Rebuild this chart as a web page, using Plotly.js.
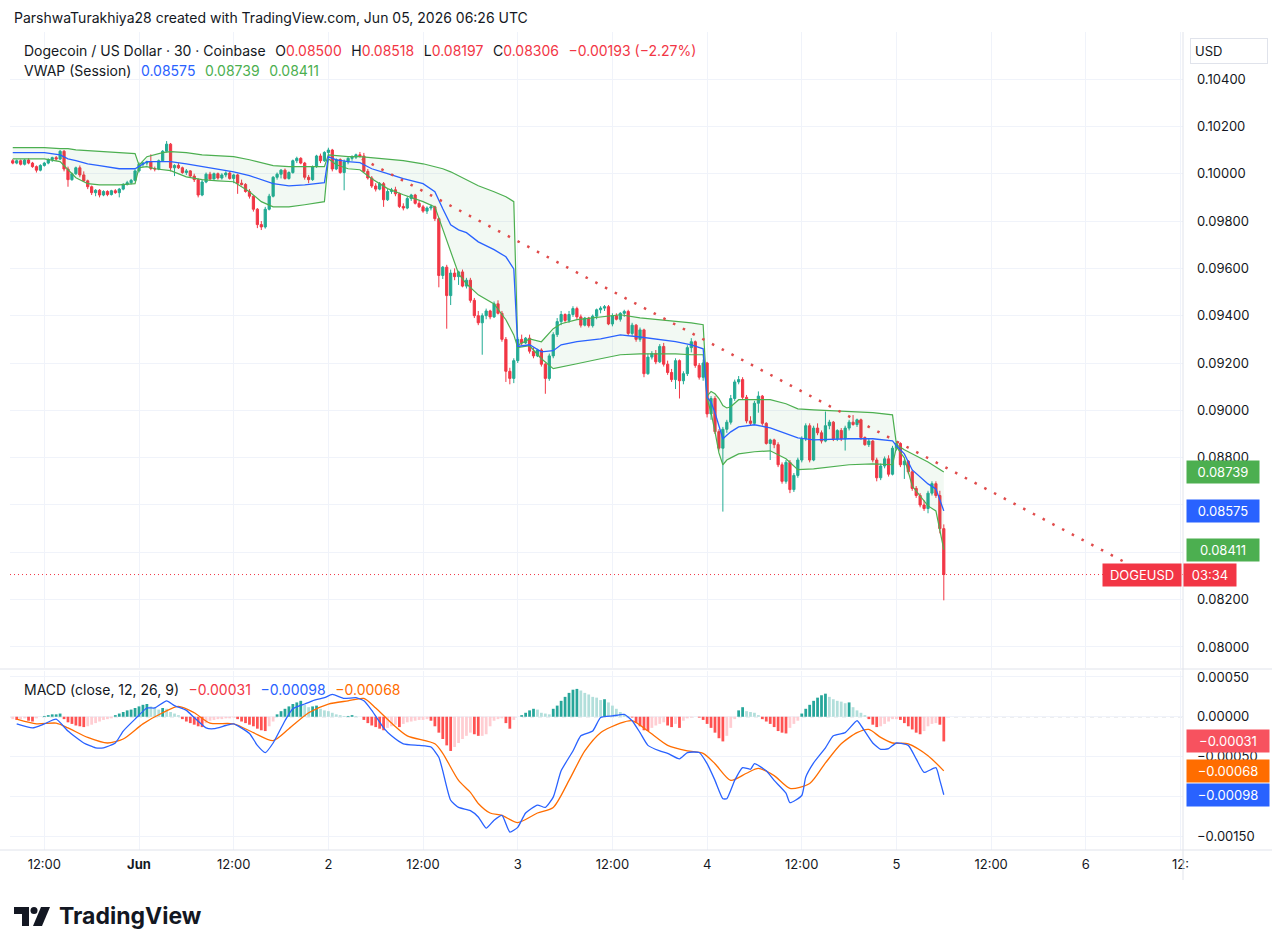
<!DOCTYPE html>
<html><head><meta charset="utf-8">
<script src="https://cdn.plot.ly/plotly-3.0.1.min.js"></script>
<style>html,body{margin:0;padding:0;background:#fff}#chart{width:1287px;height:952px}</style>
</head><body><div id="chart"></div>
<script>
// ---------- DATA ----------
const candleStartUTC = '2026-05-31T08:00:00Z'; // 30-minute candles
const open = [0.10055,0.10045,0.10055,0.10040,0.10058,0.10045,0.10030,0.10015,0.10035,0.10045,
0.10060,0.10068,0.10062,0.10095,0.10020,0.09975,0.10000,0.10025,0.09995,0.09970,
0.09945,0.09920,0.09930,0.09910,0.09925,0.09912,0.09928,0.09920,0.09935,0.09955,
0.09962,0.09972,0.10012,0.10040,0.10045,0.10050,0.10022,0.10020,0.10055,0.10095,
0.10125,0.10025,0.10035,0.10025,0.10005,0.10012,0.09990,0.09975,0.09910,0.09965,
0.09998,0.09978,0.10000,0.09982,0.09995,0.10003,0.09980,0.09995,0.09960,0.09955,
0.09925,0.09905,0.09850,0.09785,0.09775,0.09850,0.09905,0.09985,0.09998,0.10015,
0.09980,0.10005,0.10055,0.10065,0.10045,0.09985,0.09975,0.10030,0.10075,0.10055,
0.10090,0.10100,0.10020,0.10060,0.10005,0.10050,0.10065,0.10070,0.10080,0.10075,
0.10010,0.09982,0.09948,0.09935,0.09958,0.09890,0.09925,0.09932,0.09915,0.09862,
0.09855,0.09895,0.09910,0.09875,0.09860,0.09842,0.09855,0.09860,0.09810,0.09570,
0.09605,0.09485,0.09580,0.09565,0.09585,0.09525,0.09550,0.09465,0.09400,0.09370,
0.09400,0.09420,0.09395,0.09450,0.09410,0.09300,0.09165,0.09135,0.09210,0.09300,
0.09285,0.09305,0.09250,0.09230,0.09255,0.09195,0.09135,0.09230,0.09320,0.09375,
0.09405,0.09380,0.09405,0.09430,0.09395,0.09360,0.09390,0.09358,0.09398,0.09425,
0.09432,0.09438,0.09365,0.09400,0.09385,0.09410,0.09418,0.09325,0.09360,0.09300,
0.09340,0.09155,0.09225,0.09240,0.09205,0.09270,0.09195,0.09160,0.09130,0.09210,
0.09125,0.09155,0.09265,0.09290,0.09190,0.09140,0.09200,0.08985,0.09050,0.08910,
0.08840,0.08920,0.08950,0.09050,0.09120,0.09130,0.09055,0.08955,0.08945,0.09030,
0.09060,0.08945,0.08860,0.08875,0.08855,0.08770,0.08700,0.08780,0.08665,0.08725,
0.08790,0.08880,0.08935,0.08790,0.08925,0.08905,0.08870,0.08935,0.08950,0.08880,
0.08915,0.08880,0.08925,0.08950,0.08940,0.08960,0.08885,0.08855,0.08870,0.08790,
0.08715,0.08765,0.08795,0.08730,0.08840,0.08860,0.08770,0.08785,0.08740,0.08670,
0.08640,0.08600,0.08585,0.08650,0.08690,0.08640,0.08500];
const high = [0.10062,0.10060,0.10060,0.10062,0.10065,0.10050,0.10035,0.10040,0.10050,0.10065,
0.10072,0.10075,0.10100,0.10100,0.10030,0.10005,0.10030,0.10035,0.10010,0.09975,
0.09950,0.09935,0.09935,0.09930,0.09930,0.09932,0.09935,0.09940,0.09960,0.09970,
0.09978,0.10018,0.10048,0.10050,0.10055,0.10082,0.10030,0.10060,0.10100,0.10138,
0.10130,0.10040,0.10045,0.10030,0.10020,0.10015,0.10000,0.09980,0.09975,0.10005,
0.10008,0.10005,0.10005,0.10002,0.10010,0.10010,0.10000,0.10000,0.09975,0.09960,
0.09935,0.09910,0.09855,0.09800,0.09860,0.09915,0.09990,0.10005,0.10020,0.10022,
0.10010,0.10060,0.10072,0.10070,0.10050,0.09995,0.10035,0.10080,0.10085,0.10095,
0.10110,0.10105,0.10065,0.10065,0.10060,0.10070,0.10078,0.10085,0.10092,0.10088,
0.10020,0.09990,0.09960,0.09965,0.09965,0.09935,0.09940,0.09945,0.09920,0.09875,
0.09905,0.09915,0.09915,0.09885,0.09868,0.09862,0.09870,0.09865,0.09815,0.09610,
0.09615,0.09595,0.09600,0.09590,0.09595,0.09560,0.09560,0.09475,0.09420,0.09410,
0.09430,0.09425,0.09460,0.09465,0.09420,0.09310,0.09180,0.09220,0.09310,0.09320,
0.09310,0.09320,0.09265,0.09260,0.09262,0.09200,0.09240,0.09330,0.09390,0.09420,
0.09410,0.09420,0.09440,0.09438,0.09405,0.09395,0.09395,0.09405,0.09430,0.09440,
0.09445,0.09445,0.09410,0.09410,0.09415,0.09425,0.09425,0.09370,0.09365,0.09350,
0.09345,0.09240,0.09250,0.09255,0.09280,0.09285,0.09210,0.09175,0.09220,0.09215,
0.09165,0.09275,0.09305,0.09295,0.09200,0.09215,0.09205,0.09060,0.09060,0.08920,
0.08930,0.08960,0.09065,0.09130,0.09145,0.09140,0.09065,0.08975,0.09040,0.09080,
0.09065,0.08950,0.08880,0.08880,0.08865,0.08780,0.08790,0.08790,0.08735,0.08800,
0.08890,0.08945,0.08945,0.08935,0.08945,0.08915,0.08995,0.08960,0.08955,0.08920,
0.08925,0.08935,0.08960,0.08980,0.08965,0.08965,0.08890,0.08880,0.08875,0.08800,
0.08775,0.08805,0.08810,0.08850,0.08870,0.08865,0.08795,0.08790,0.08750,0.08680,
0.08650,0.08620,0.08660,0.08700,0.08700,0.08660,0.08518];
const low = [0.10040,0.10040,0.10035,0.10035,0.10040,0.10025,0.10005,0.10010,0.10030,0.10040,
0.10050,0.10055,0.10058,0.10010,0.09945,0.09970,0.09995,0.09985,0.09965,0.09935,
0.09910,0.09905,0.09900,0.09905,0.09905,0.09908,0.09915,0.09900,0.09930,0.09950,
0.09955,0.09968,0.10005,0.10030,0.10035,0.10015,0.10010,0.10015,0.10050,0.10090,
0.10010,0.09990,0.10020,0.10000,0.09995,0.09985,0.09965,0.09900,0.09905,0.09960,
0.09970,0.09975,0.09975,0.09975,0.09985,0.09975,0.09960,0.09915,0.09950,0.09920,
0.09895,0.09840,0.09770,0.09762,0.09768,0.09845,0.09900,0.09975,0.09980,0.09975,
0.09975,0.10000,0.10045,0.10040,0.09975,0.09960,0.09970,0.10025,0.10045,0.10050,
0.10070,0.10010,0.10015,0.10000,0.09930,0.10040,0.10055,0.10062,0.10068,0.10005,
0.09975,0.09940,0.09925,0.09930,0.09860,0.09885,0.09915,0.09905,0.09855,0.09845,
0.09850,0.09885,0.09870,0.09855,0.09835,0.09830,0.09845,0.09800,0.09520,0.09555,
0.09345,0.09445,0.09550,0.09530,0.09520,0.09515,0.09455,0.09390,0.09360,0.09235,
0.09385,0.09385,0.09390,0.09405,0.09290,0.09120,0.09110,0.09115,0.09200,0.09275,
0.09280,0.09240,0.09220,0.09225,0.09185,0.09070,0.09125,0.09220,0.09310,0.09360,
0.09370,0.09370,0.09395,0.09385,0.09350,0.09355,0.09350,0.09350,0.09385,0.09410,
0.09420,0.09360,0.09355,0.09380,0.09375,0.09395,0.09315,0.09315,0.09290,0.09290,
0.09140,0.09150,0.09215,0.09195,0.09200,0.09185,0.09150,0.09120,0.09090,0.09050,
0.09110,0.09145,0.09245,0.09180,0.09130,0.09125,0.08970,0.08960,0.08900,0.08830,
0.08572,0.08905,0.08940,0.09040,0.09110,0.09045,0.08945,0.08935,0.08940,0.08990,
0.08935,0.08855,0.08790,0.08840,0.08760,0.08690,0.08690,0.08650,0.08655,0.08715,
0.08780,0.08870,0.08780,0.08785,0.08895,0.08860,0.08865,0.08920,0.08870,0.08870,
0.08870,0.08830,0.08915,0.08935,0.08930,0.08875,0.08850,0.08845,0.08780,0.08700,
0.08705,0.08755,0.08720,0.08725,0.08830,0.08760,0.08710,0.08730,0.08660,0.08630,
0.08590,0.08575,0.08565,0.08640,0.08630,0.08480,0.08197];
const close = [0.10045,0.10055,0.10040,0.10058,0.10045,0.10030,0.10015,0.10035,0.10045,0.10060,
0.10068,0.10062,0.10095,0.10020,0.09975,0.10000,0.10025,0.09995,0.09970,0.09945,
0.09920,0.09930,0.09910,0.09925,0.09912,0.09928,0.09920,0.09935,0.09955,0.09962,
0.09972,0.10012,0.10040,0.10045,0.10050,0.10022,0.10020,0.10055,0.10095,0.10125,
0.10025,0.10035,0.10025,0.10005,0.10012,0.09990,0.09975,0.09910,0.09965,0.09998,
0.09978,0.10000,0.09982,0.09995,0.10003,0.09980,0.09995,0.09960,0.09955,0.09925,
0.09905,0.09850,0.09785,0.09775,0.09850,0.09905,0.09985,0.09998,0.10015,0.09980,
0.10005,0.10055,0.10065,0.10045,0.09985,0.09975,0.10030,0.10075,0.10055,0.10090,
0.10100,0.10020,0.10060,0.10005,0.10050,0.10065,0.10070,0.10080,0.10075,0.10010,
0.09982,0.09948,0.09935,0.09958,0.09890,0.09925,0.09932,0.09915,0.09862,0.09855,
0.09895,0.09910,0.09875,0.09860,0.09842,0.09855,0.09860,0.09810,0.09570,0.09605,
0.09485,0.09580,0.09565,0.09585,0.09525,0.09550,0.09465,0.09400,0.09370,0.09400,
0.09420,0.09395,0.09450,0.09410,0.09300,0.09165,0.09135,0.09210,0.09300,0.09285,
0.09305,0.09250,0.09230,0.09255,0.09195,0.09135,0.09230,0.09320,0.09375,0.09405,
0.09380,0.09405,0.09430,0.09395,0.09360,0.09390,0.09358,0.09398,0.09425,0.09432,
0.09438,0.09365,0.09400,0.09385,0.09410,0.09418,0.09325,0.09360,0.09300,0.09340,
0.09155,0.09225,0.09240,0.09205,0.09270,0.09195,0.09160,0.09130,0.09210,0.09125,
0.09155,0.09265,0.09290,0.09190,0.09140,0.09200,0.08985,0.09050,0.08910,0.08840,
0.08920,0.08950,0.09050,0.09120,0.09130,0.09055,0.08955,0.08945,0.09030,0.09060,
0.08945,0.08860,0.08875,0.08855,0.08770,0.08700,0.08780,0.08665,0.08725,0.08790,
0.08880,0.08935,0.08790,0.08925,0.08905,0.08870,0.08935,0.08950,0.08880,0.08915,
0.08880,0.08925,0.08950,0.08940,0.08960,0.08885,0.08855,0.08870,0.08790,0.08715,
0.08765,0.08795,0.08730,0.08840,0.08860,0.08770,0.08785,0.08740,0.08670,0.08640,
0.08600,0.08585,0.08650,0.08690,0.08640,0.08500,0.08306];

// VWAP (session) – sampled at candle indices
const vwapIdx = [0,8,12,14,16,19,22,27,31,
 32,34,36,38,40,44,48,52,56,60,63,66,70,74,79,
 80,82,85,88,91,95,99,104,107,109,111,113,115,118,122,125,127,
 128,131,134,137,139,143,149,154,159,164,168,172,175,
 176,177,178,179,180,181,182,184,188,192,196,199,203,212,218,223,
 224,226,228,230,232,234,236];
const vwapUpper = [0.10110,0.10110,0.10106,0.10106,0.10101,0.10097,0.10093,0.10089,0.10085,
 0.10036,0.10072,0.10080,0.10089,0.10093,0.10089,0.10080,0.10076,0.10072,0.10059,0.10047,0.10034,0.10030,0.10030,0.10030,
 0.10080,0.10076,0.10072,0.10072,0.10068,0.10063,0.10055,0.10042,0.10030,0.10021,0.10008,0.09992,0.09975,0.09949,0.09924,0.09903,0.09882,
 0.09275,0.09302,0.09290,0.09345,0.09366,0.09383,0.09395,0.09404,0.09391,0.09383,0.09379,0.09370,0.09362,
 0.09060,0.09080,0.09070,0.09050,0.09020,0.09010,0.09015,0.09045,0.09045,0.09045,0.09028,0.09006,0.09002,0.08994,0.08990,0.08981,
 0.08855,0.08833,0.08816,0.08799,0.08782,0.08761,0.08739];
const vwapMid = [0.10089,0.10089,0.10080,0.10063,0.10055,0.10042,0.10034,0.10021,0.10021,
 0.10031,0.10051,0.10051,0.10051,0.10051,0.10042,0.10030,0.10021,0.10008,0.09992,0.09975,0.09958,0.09949,0.09953,0.09962,
 0.10072,0.10059,0.10051,0.10047,0.10021,0.10000,0.09979,0.09958,0.09924,0.09852,0.09784,0.09763,0.09751,0.09712,0.09679,0.09649,0.09598,
 0.09270,0.09277,0.09247,0.09252,0.09277,0.09290,0.09302,0.09319,0.09310,0.09298,0.09290,0.09277,0.09260,
 0.09055,0.09035,0.08990,0.08935,0.08880,0.08895,0.08909,0.08930,0.08939,0.08926,0.08901,0.08884,0.08875,0.08880,0.08880,0.08871,
 0.08850,0.08816,0.08748,0.08719,0.08689,0.08668,0.08575];
const vwapLower = [0.10063,0.10063,0.10051,0.10017,0.09983,0.09958,0.09953,0.09953,0.09958,
 0.10026,0.10030,0.10021,0.10017,0.10013,0.09987,0.09975,0.09970,0.09966,0.09924,0.09882,0.09860,0.09860,0.09869,0.09882,
 0.10063,0.10038,0.10021,0.10017,0.09979,0.09937,0.09911,0.09882,0.09860,0.09763,0.09670,0.09577,0.09535,0.09488,0.09450,0.09383,0.09319,
 0.09265,0.09273,0.09218,0.09176,0.09184,0.09197,0.09218,0.09235,0.09239,0.09239,0.09239,0.09235,0.09235,
 0.09050,0.08990,0.08910,0.08820,0.08770,0.08790,0.08799,0.08816,0.08825,0.08829,0.08795,0.08749,0.08753,0.08770,0.08774,0.08770,
 0.08845,0.08799,0.08680,0.08639,0.08596,0.08575,0.08411];

// MACD (close, 12, 26, 9)
const macdIdx = [1,5,8,11,14,18,21,23,26,28,31,34,36,39,41,44,46,49,51,54,56,60,62,64,66,69,71,74,76,79,81,84,87,89,91,94,96,99,103,106,108,109,111,113,116,118,120,122,124,126,128,130,133,135,137,139,142,144,147,149,152,155,157,159,161,164,166,169,171,174,176,178,180,181,183,185,187,188,191,193,196,197,200,201,203,206,208,211,214,215,218,220,222,224,227,229,231,234,235,236];
const macdLine = [-0.00009,-0.00014,-0.00009,-0.00003,-0.00018,-0.00033,-0.00039,-0.00039,-0.00033,-0.00018,-0.00003,0.00011,0.00011,0.00020,0.00014,0.00008,-0.00001,-0.00014,-0.00015,-0.00011,-0.00009,-0.00021,-0.00036,-0.00045,-0.00033,-0.00005,0.00010,0.00016,0.00020,0.00024,0.00028,0.00023,0.00024,0.00020,0.00008,-0.00014,-0.00024,-0.00034,-0.00036,-0.00038,-0.00051,-0.00068,-0.00105,-0.00114,-0.00118,-0.00126,-0.00140,-0.00130,-0.00124,-0.00145,-0.00139,-0.00121,-0.00111,-0.00114,-0.00101,-0.00068,-0.00043,-0.00024,-0.00018,-0.00001,0.00001,0.00003,-0.00005,-0.00020,-0.00036,-0.00043,-0.00046,-0.00053,-0.00045,-0.00045,-0.00059,-0.00080,-0.00103,-0.00103,-0.00080,-0.00064,-0.00066,-0.00059,-0.00068,-0.00080,-0.00096,-0.00108,-0.00099,-0.00076,-0.00058,-0.00039,-0.00024,-0.00020,-0.00005,-0.00011,-0.00033,-0.00041,-0.00040,-0.00033,-0.00036,-0.00053,-0.00070,-0.00064,-0.00080,-0.00098];
const signalIdx = [1,6,11,14,19,24,28,33,38,42,46,50,56,61,66,70,75,80,85,89,92,96,100,107,109,113,116,118,121,124,128,133,137,141,145,149,154,157,161,166,171,175,178,182,186,189,193,197,202,206,210,214,217,220,223,227,232,236];
const signalLine = [-0.00003,-0.00009,-0.00008,-0.00014,-0.00026,-0.00033,-0.00028,-0.00009,0.00005,0.00013,0.00005,-0.00008,-0.00009,-0.00020,-0.00030,-0.00015,0.00005,0.00016,0.00020,0.00023,0.00011,-0.00008,-0.00024,-0.00034,-0.00046,-0.00080,-0.00095,-0.00109,-0.00121,-0.00124,-0.00133,-0.00121,-0.00114,-0.00080,-0.00043,-0.00020,-0.00008,-0.00005,-0.00018,-0.00036,-0.00043,-0.00046,-0.00059,-0.00080,-0.00071,-0.00065,-0.00074,-0.00090,-0.00084,-0.00058,-0.00034,-0.00020,-0.00016,-0.00026,-0.00033,-0.00034,-0.00049,-0.00068];
const histogram = [-0.00003,-0.00004,-0.00003,-0.00002,-0.00005,-0.00006,-0.00002,0,0.00001,0.00002,
0.00003,0.00003,0.00004,-0.00003,-0.00007,-0.00009,-0.00011,-0.00012,-0.00013,-0.00012,
-0.00010,-0.00008,-0.00006,-0.00004,-0.00003,-0.00002,0.00002,0.00004,0.00006,0.00008,
0.00009,0.00011,0.00013,0.00015,0.00016,0.00013,0.00012,0.00009,0.00011,0.00010,
0.00006,0.00004,0.00002,-0.00003,-0.00006,-0.00008,-0.00010,-0.00012,-0.00013,-0.00008,
-0.00005,-0.00004,-0.00003,-0.00003,-0.00002,-0.00002,-0.00001,-0.00003,-0.00006,-0.00008,
-0.00010,-0.00012,-0.00015,-0.00017,-0.00018,-0.00012,-0.00006,0.00003,0.00007,0.00010,
0.00013,0.00016,0.00018,0.00020,0.00015,0.00012,0.00013,0.00014,0.00010,0.00008,
0.00007,0.00005,0.00003,0.00002,0.00001,0.00001,0.00002,0.00001,0,-0.00004,
-0.00008,-0.00011,-0.00013,-0.00015,-0.00017,-0.00014,-0.00012,-0.00010,-0.00013,-0.00009,
-0.00007,-0.00006,-0.00005,-0.00004,-0.00004,-0.00003,-0.00005,-0.00012,-0.00020,-0.00028,
-0.00036,-0.00043,-0.00038,-0.00033,-0.00028,-0.00024,-0.00020,-0.00022,-0.00024,-0.00024,
-0.00022,-0.00012,-0.00005,-0.00003,-0.00002,-0.00008,-0.00015,-0.00004,0,0.00002,
0.00005,0.00008,0.00010,0.00009,0.00005,0.00004,0.00003,0.00010,0.00014,0.00020,
0.00025,0.00030,0.00034,0.00035,0.00033,0.00030,0.00028,0.00025,0.00024,0.00021,
0.00022,0.00018,0.00014,0.00010,0.00006,0.00003,0.00001,-0.00001,-0.00008,-0.00012,
-0.00017,-0.00018,-0.00014,-0.00011,-0.00009,-0.00007,-0.00011,-0.00013,-0.00009,-0.00014,
-0.00005,-0.00002,-0.00001,0,-0.00001,-0.00004,-0.00009,-0.00014,-0.00020,-0.00027,
-0.00031,-0.00024,-0.00014,-0.00003,0.00008,0.00012,0.00007,0.00006,0.00005,0.00002,
-0.00003,-0.00006,-0.00009,-0.00013,-0.00018,-0.00020,-0.00021,-0.00014,-0.00009,-0.00005,
0.00004,0.00010,0.00015,0.00020,0.00024,0.00027,0.00029,0.00025,0.00022,0.00020,
0.00019,0.00017,0.00018,0.00012,0.00008,0.00005,0.00002,-0.00003,-0.00010,-0.00013,
-0.00012,-0.00009,-0.00006,-0.00003,-0.00003,-0.00004,-0.00008,-0.00012,-0.00016,-0.00020,
-0.00022,-0.00018,-0.00012,-0.00009,-0.00008,-0.00010,-0.00031];

// Trend line (drawn on chart) and last values
const trendTimes = ['2026-06-02 04:15','2026-06-06 05:35'];
const trendPrices = [0.10063, 0.08347];
const lastClose = 0.08306;
const vwapLast = {upper:0.08739, mid:0.08575, lower:0.08411};
const macdLast = {hist:-0.00031, macd:-0.00098, signal:-0.00068};

// Axis ticks (labels hidden where the reference covers them with value badges)
const priceTicks = [0.080,0.082,0.084,0.086,0.088,0.090,0.092,0.094,0.096,0.098,0.100,0.102,0.104];
const priceTickText = ['0.08000','0.08200','','','0.08800','0.09000','0.09200','0.09400','0.09600','0.09800','0.10000','0.10200','0.10400'];
const macdTicks = [0.0005,0,-0.0005,-0.001,-0.0015];
const macdTickText = ['0.00050','0.00000','\u22120.00050','','\u22120.00150'];
const timeTicks = ['2026-05-31 12:00','2026-06-01 00:00','2026-06-01 12:00','2026-06-02 00:00','2026-06-02 12:00','2026-06-03 00:00','2026-06-03 12:00','2026-06-04 00:00','2026-06-04 12:00','2026-06-05 00:00','2026-06-05 12:00','2026-06-06 00:00','2026-06-06 12:00'];
const timeTickText = ['12:00','<b>Jun</b>','12:00','2','12:00','3','12:00','4','12:00','5','12:00','6','12:'];

// ---------- BUILD ----------
const t0 = Date.parse(candleStartUTC);
const fmt = ms => new Date(ms).toISOString().slice(0,16).replace('T',' ');
const times = close.map((_, i) => fmt(t0 + i * 1800000));
const at = idx => idx.map(i => times[i]);

const GREEN = '#22AB94', RED = '#F23645', BLUE = '#2962FF', BAND = '#4CAF50', ORANGE = '#FF6D00';
const GRID = '#F0F3FA', INK = '#131722';
const FONT = 'Inter, "Noto Sans", Roboto, sans-serif';

const histColors = histogram.map((v, i) => {
  const p = i > 0 ? histogram[i-1] : v;
  if (v >= 0) return v >= p ? '#26A69A' : '#B2DFDB';
  return v < p ? '#FF5252' : '#FFCDD2';
});

const traces = [
  {type:'scatter', mode:'lines', x:at(vwapIdx), y:vwapUpper, xaxis:'x', yaxis:'y',
   line:{color:BAND, width:1.2}, hoverinfo:'skip'},
  {type:'scatter', mode:'lines', x:at(vwapIdx), y:vwapLower, xaxis:'x', yaxis:'y',
   line:{color:BAND, width:1.2}, fill:'tonexty', fillcolor:'rgba(76,175,80,0.07)', hoverinfo:'skip'},
  {type:'scatter', mode:'lines', x:at(vwapIdx), y:vwapMid, xaxis:'x', yaxis:'y',
   line:{color:BLUE, width:1.3}, hoverinfo:'skip'},
  {type:'scatter', mode:'lines', x:trendTimes, y:trendPrices, xaxis:'x', yaxis:'y',
   line:{color:'#E04B4B', width:2.5, dash:'2.5px,8.5px'}, hoverinfo:'skip', cliponaxis:false},
  {type:'candlestick', x:times, open:open, high:high, low:low, close:close, xaxis:'x', yaxis:'y',
   increasing:{line:{color:GREEN, width:1}, fillcolor:GREEN},
   decreasing:{line:{color:RED, width:1}, fillcolor:RED},
   whiskerwidth:0, hoverinfo:'skip'},
  {type:'bar', x:times, y:histogram, xaxis:'x2', yaxis:'y2', marker:{color:histColors, line:{width:0}}, hoverinfo:'skip'},
  {type:'scatter', mode:'lines', x:at(signalIdx), y:signalLine, xaxis:'x2', yaxis:'y2',
   line:{color:ORANGE, width:1.3, shape:'spline', smoothing:0.7}, hoverinfo:'skip'},
  {type:'scatter', mode:'lines', x:at(macdIdx), y:macdLine, xaxis:'x2', yaxis:'y2',
   line:{color:BLUE, width:1.3, shape:'spline', smoothing:0.5}, hoverinfo:'skip'}
];

// pixel -> paper helpers (plot area: x 10..1183, y 32..850)
const px = X => (X - 10) / 1173;
const py = Y => (850 - Y) / 818;
const xRange = ['2026-05-31 07:39','2026-06-06 12:19'];

const shapes = [
  {type:'line', xref:'paper', yref:'y2', x0:0, x1:1, y0:0, y1:0, layer:'below',
   line:{color:'#B2B5BE', width:1, dash:'4px,4px'}},
  {type:'line', xref:'paper', yref:'y', x0:0, x1:1, y0:lastClose, y1:lastClose,
   line:{color:RED, width:1, dash:'1px,3px'}},
  {type:'line', xref:'paper', yref:'paper', x0:px(0), x1:px(1272), y0:py(669), y1:py(669), line:{color:'#E0E3EB', width:1}},
  {type:'line', xref:'paper', yref:'paper', x0:px(0), x1:px(1272), y0:0, y1:0, line:{color:'#E0E3EB', width:1}},
  {type:'line', xref:'paper', yref:'paper', x0:1, x1:1, y0:py(880), y1:py(32), line:{color:'#E0E3EB', width:1}},
  // TradingView logo
  {type:'path', xref:'paper', yref:'paper', fillcolor:INK, line:{width:0},
   path:`M${px(14)},${py(907)} L${px(29)},${py(907)} L${px(29)},${py(926)} L${px(22)},${py(926)} L${px(22)},${py(914)} L${px(14)},${py(914)} Z`},
  {type:'circle', xref:'paper', yref:'paper', fillcolor:INK, line:{width:0},
   x0:px(30.5), x1:px(37.5), y0:py(914), y1:py(907)},
  {type:'path', xref:'paper', yref:'paper', fillcolor:INK, line:{width:0},
   path:`M${px(41)},${py(907)} L${px(50)},${py(907)} L${px(42)},${py(926)} L${px(33)},${py(926)} Z`}
];

const badge = (text, yref, y, bg, w) => ({
  xref:'paper', x:1, xanchor:'left', xshift:3, yref:yref, y:y, yanchor:'middle',
  text:text, showarrow:false, bgcolor:bg, borderpad:3, width:w, height:16,
  font:{family:FONT, size:13, color:'#FFFFFF'}, align:'center'
});
const fmt5 = v => (v < 0 ? '\u2212' : '') + Math.abs(v).toFixed(5);
const red = s => `<span style="color:${RED}">${s}</span>`;
const GAP = '\u2002\u2009';

const annotations = [
  {xref:'paper', yref:'paper', x:px(12), y:py(18), xanchor:'left', yanchor:'middle', showarrow:false,
   text:'ParshwaTurakhiya28 created with TradingView.com, Jun 05, 2026 06:26 UTC', font:{family:FONT, size:14, color:INK}},
  {xref:'paper', yref:'paper', x:px(22), y:py(50), xanchor:'left', yanchor:'middle', showarrow:false,
   text:'Dogecoin / US Dollar \u00b7 30 \u00b7 Coinbase' + GAP + 'O' + red(open[open.length-1].toFixed(5)) +
        GAP + 'H' + red(high[high.length-1].toFixed(5)) + GAP + 'L' + red(low[low.length-1].toFixed(5)) +
        GAP + 'C' + red(close[close.length-1].toFixed(5)) + GAP + red('\u22120.00193 (\u22122.27%)'),
   font:{family:FONT, size:14, color:INK}},
  {xref:'paper', yref:'paper', x:px(22), y:py(71), xanchor:'left', yanchor:'middle', showarrow:false,
   text:'VWAP (Session)' + GAP + '<span style="color:'+BLUE+'">'+vwapLast.mid.toFixed(5)+'</span>' + GAP + '<span style="color:'+BAND+'">'+vwapLast.upper.toFixed(5)+'</span>' + GAP + '<span style="color:'+BAND+'">'+vwapLast.lower.toFixed(5)+'</span>',
   font:{family:FONT, size:14, color:INK}},
  {xref:'paper', yref:'paper', x:px(22), y:py(689), xanchor:'left', yanchor:'middle', showarrow:false,
   text:'MACD (close, 12, 26, 9)' + GAP + '<span style="color:'+RED+'">'+fmt5(macdLast.hist)+'</span>' + GAP + '<span style="color:'+BLUE+'">'+fmt5(macdLast.macd)+'</span>' + GAP + '<span style="color:'+ORANGE+'">'+fmt5(macdLast.signal)+'</span>',
   font:{family:FONT, size:14, color:INK}},
  {xref:'paper', yref:'paper', x:px(1190), y:py(51), xanchor:'left', yanchor:'middle', showarrow:false,
   text:'USD', font:{family:FONT, size:13, color:INK}, bgcolor:'#FFFFFF', bordercolor:'#E0E3EB', borderwidth:1, borderpad:4, width:68, align:'left'},
  {xref:'paper', yref:'paper', x:px(57), y:py(916), xanchor:'left', yanchor:'middle', showarrow:false,
   text:'<b>TradingView</b>', font:{family:FONT, size:23, color:INK}},
  badge(vwapLast.upper.toFixed(5), 'y', vwapLast.upper, BAND, 66),
  badge(vwapLast.mid.toFixed(5), 'y', vwapLast.mid, BLUE, 66),
  badge(vwapLast.lower.toFixed(5), 'y', vwapLast.lower, BAND, 66),
  {xref:'paper', x:1, xanchor:'right', xshift:-1, yref:'y', y:lastClose, yanchor:'middle',
   text:'DOGEUSD', showarrow:false, bgcolor:RED, borderpad:3, width:72, height:16, font:{family:FONT, size:13, color:'#FFFFFF'}},
  {xref:'paper', x:1, xanchor:'left', xshift:0, yref:'y', y:lastClose, yanchor:'middle',
   text:'03:34', showarrow:false, bgcolor:RED, borderpad:3, width:46, height:16, font:{family:FONT, size:13, color:'#FFFFFF'}},
  badge(fmt5(macdLast.hist), 'y2', macdLast.hist, '#F7525F', 76),
  badge(fmt5(macdLast.signal), 'y2', macdLast.signal, ORANGE, 76),
  badge(fmt5(macdLast.macd), 'y2', macdLast.macd, BLUE, 76)
];

const layout = {
  width:1287, height:952, paper_bgcolor:'#FFFFFF', plot_bgcolor:'#FFFFFF',
  margin:{l:10, r:104, t:32, b:102},
  showlegend:false, hovermode:false, dragmode:false,
  font:{family:FONT, size:13, color:INK},
  boxgap:0.2, bargap:0.3,
  xaxis:{type:'date', range:xRange, domain:[0,1], anchor:'y', tickvals:timeTicks, showticklabels:false,
         showgrid:true, gridcolor:GRID, zeroline:false, showline:false, ticks:'', rangeslider:{visible:false}, fixedrange:true},
  xaxis2:{type:'date', range:xRange, domain:[0,1], anchor:'y2', tickvals:timeTicks, ticktext:timeTickText,
         tickfont:{family:FONT, size:13, color:INK}, ticks:'', ticklabelstandoff:5,
         showgrid:true, gridcolor:GRID, zeroline:false, showline:false, rangeslider:{visible:false}, fixedrange:true},
  yaxis:{domain:[py(668),1], range:[0.07911,0.10599], side:'right', anchor:'x', tickvals:priceTicks, ticktext:priceTickText,
         tickfont:{family:FONT, size:13, color:INK}, ticks:'', ticklabelstandoff:13,
         showgrid:true, gridcolor:GRID, zeroline:false, showline:false, fixedrange:true},
  yaxis2:{domain:[0,py(671)], range:[-0.001675,0.000575], side:'right', anchor:'x2', tickvals:macdTicks, ticktext:macdTickText,
         tickfont:{family:FONT, size:13, color:INK}, ticks:'', ticklabelstandoff:13,
         showgrid:true, gridcolor:GRID, zeroline:false, showline:false, fixedrange:true},
  shapes:shapes, annotations:annotations
};

Plotly.newPlot('chart', traces, layout, {staticPlot:true, displayModeBar:false});
</script>
</body></html>
